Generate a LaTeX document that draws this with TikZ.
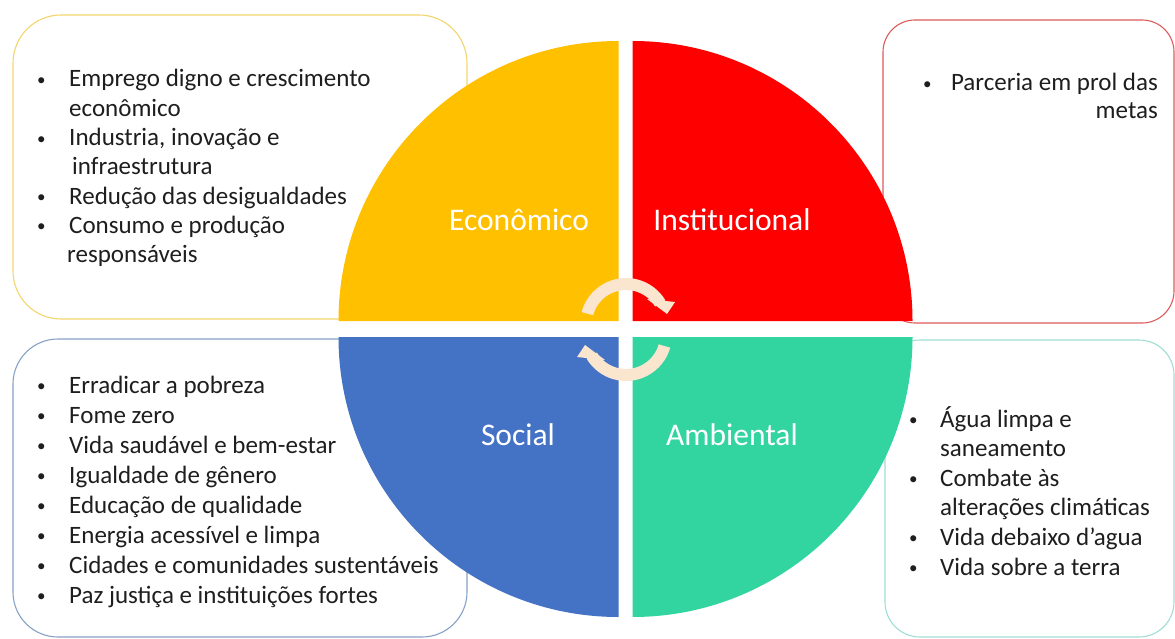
\documentclass[tikz,border=0pt]{standalone}
\usepackage{fontspec}
\setmainfont{Carlito}
\definecolor{qyellow}{HTML}{FFC000}
\definecolor{qred}{HTML}{FF0000}
\definecolor{qblue}{HTML}{4472C4}
\definecolor{qgreen}{HTML}{32D4A0}
\definecolor{qcream}{HTML}{FAE5CF}
\definecolor{byellow}{HTML}{F3D66E}
\definecolor{bred}{HTML}{DC5C5C}
\definecolor{bblue}{HTML}{86A2C6}
\definecolor{bgreen}{HTML}{A2DDD5}
\definecolor{txt}{HTML}{1E1E1E}
\newcommand{\smallbul}{{\fontsize{17}{17}\selectfont\raisebox{1.5pt}{\textbullet}}}
\begin{document}
\begin{tikzpicture}[x=1pt,y=-1pt,
  framebox/.style={draw=#1, line width=1.1pt, fill=white},
  quad/.style={fill=#1},
  cyclearrow/.style={fill=qcream},
  label/.style={text=white, font=\fontsize{31.5}{36}\selectfont, inner sep=0pt},
  listtext/.style={text=txt, inner sep=0pt}]
\useasboundingbox (0,0) rectangle (1175,639);
\fill[white] (0,0) rectangle (1175,639);
\begin{scope}
\clip (0,0) rectangle (1175,639);
% frames
\draw[framebox=byellow, rounded corners=48] (13,15) rectangle (467,319);
\draw[framebox=bred, rounded corners=32] (883,20) rectangle (1174,323);
\draw[framebox=bblue, rounded corners=45] (13,339) rectangle (467,637);
\draw[framebox=bgreen, rounded corners=35] (885,340) rectangle (1174,637);
% quadrants
\fill[quad=qyellow] (618.5,321) -- ++(-280,0) arc[start angle=180, end angle=270, radius=280] -- cycle;
\fill[quad=qred] (632.5,321) -- ++(0,-280) arc[start angle=270, end angle=360, radius=280] -- cycle;
\fill[quad=qblue] (618.5,337) -- ++(0,280) arc[start angle=90, end angle=180, radius=280] -- cycle;
\fill[quad=qgreen] (632.5,337) -- ++(280,0) arc[start angle=0, end angle=90, radius=280] -- cycle;
% cycle arrows
\coordinate (ctop) at (626,324);
\coordinate (cbot) at (626,335);
\fill[cyclearrow] ([shift={(-165:46)}]ctop) arc[start angle=-165, end angle=-31, radius=46]
  -- ([shift={(-31:34)}]ctop) arc[start angle=-31, end angle=-165, radius=34] -- cycle;
\fill[cyclearrow] (647,299) -- (675,302) -- (667,314) -- cycle;
\fill[cyclearrow] ([shift={(16:46)}]cbot) arc[start angle=16, end angle=149, radius=46]
  -- ([shift={(149:34)}]cbot) arc[start angle=149, end angle=16, radius=34] -- cycle;
\fill[cyclearrow] (605,360) -- (577,357) -- (585,345) -- cycle;
\end{scope}
% labels
\node[label, anchor=base] (econ) at (519,230) {Econômico};
\node[label, anchor=base] (inst) at (732,230) {Institucional};
\node[label, anchor=base] (soc) at (518,445) {Social};
\node[label, anchor=base] (amb) at (732,445) {Ambiental};
% lists
\node[listtext, anchor=base west] (econlist) at (37,87) {\fontsize{25}{29.3}\selectfont
\begin{tabular}[t]{@{}p{32pt}@{}l@{}}
\smallbul & Emprego digno e crescimento\\
 & econômico\\
\smallbul & Industria, inovação e\\
 & \hspace{3pt}infraestrutura\\
\smallbul & Redução das desigualdades\\
\smallbul & Consumo e produção\\
 & \hspace{-2pt}responsáveis
\end{tabular}};
\node[listtext, anchor=base east] (instlist) at (1158,91) {\fontsize{25}{28}\selectfont
\begin{tabular}[t]{@{}p{28pt}@{}r@{}}
\smallbul & Parceria em prol das\\
 & metas
\end{tabular}};
\node[listtext, anchor=base west] (soclist) at (37,393) {\fontsize{25}{30}\selectfont
\begin{tabular}[t]{@{}p{32pt}@{}l@{}}
\smallbul & Erradicar a pobreza\\
\smallbul & Fome zero\\
\smallbul & Vida saudável e bem-estar\\
\smallbul & Igualdade de gênero\\
\smallbul & Educação de qualidade\\
\smallbul & Energia acessível e limpa\\
\smallbul & Cidades e comunidades sustentáveis\\
\smallbul & Paz justiça e instituições fortes
\end{tabular}};
\node[listtext, anchor=base west] (amblist) at (909,427) {\fontsize{25}{29.6}\selectfont
\begin{tabular}[t]{@{}p{31pt}@{}l@{}}
\smallbul & Água limpa e\\
 & saneamento\\
\smallbul & Combate às\\
 & alterações climáticas\\
\smallbul & Vida debaixo d’agua\\
\smallbul & Vida sobre a terra
\end{tabular}};
\end{tikzpicture}
\end{document}
